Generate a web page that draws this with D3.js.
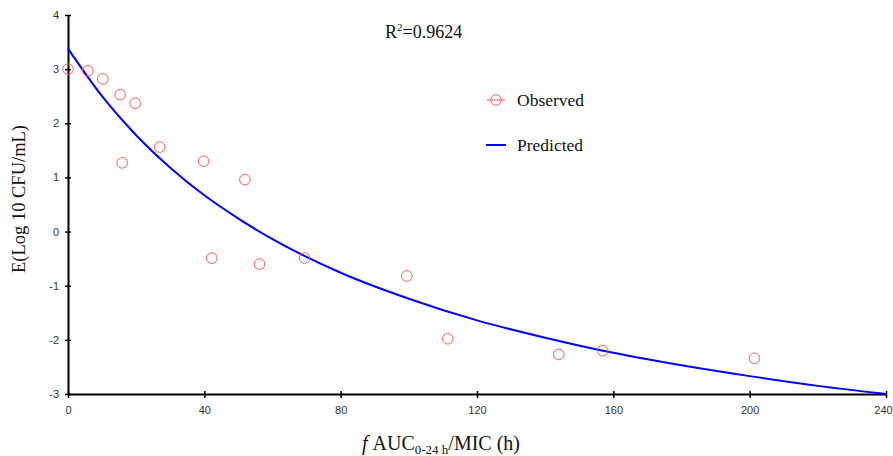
<!DOCTYPE html>
<html lang="en">
<head>
  <meta charset="UTF-8">
  <title>fAUC/MIC vs E</title>
  <script src="https://d3js.org/d3.v7.min.js"></script>
  <style>
    body { margin: 0; background: #fff; }
    .tick text { font-family: Arial, "Liberation Sans", sans-serif; font-size: 11px; fill: #333; }
    .serif { font-family: "Times New Roman", "Liberation Serif", serif; fill: #111; }
  </style>
</head>
<body>
  <div id="chart"></div>
  <script>
    // observed points
    var obsX = [0, 5.8, 10.2, 15.3, 19.7, 15.9, 26.9, 39.8, 51.9, 42.2, 56.2, 69.4, 99.4, 111.4, 144.0, 156.9, 201.4];
    var obsY = [3.0, 2.97, 2.82, 2.53, 2.37, 1.27, 1.56, 1.30, 0.96, -0.49, -0.60, -0.49, -0.82, -1.98, -2.27, -2.20, -2.34];

    // predicted curve
    var predX = [0, 10, 20, 30, 40, 50, 60, 80, 100, 120, 140, 160, 180, 200, 220, 240];
    var predY = [3.38, 2.50, 1.78, 1.18, 0.67, 0.24, -0.14, -0.76, -1.24, -1.64, -1.96, -2.24, -2.47, -2.67, -2.85, -3.00];

    var xTicks = [0, 40, 80, 120, 160, 200, 240];
    var yTicks = [-3, -2, -1, 0, 1, 2, 3, 4];

    var width = 893, height = 456;
    var margin = {top: 15, right: 7, bottom: 62, left: 68};

    var svg = d3.select("#chart").append("svg")
      .attr("width", width)
      .attr("height", height);

    var x = d3.scaleLinear().domain([0, 240]).range([margin.left, width - margin.right]);
    var y = d3.scaleLinear().domain([-3, 4]).range([height - margin.bottom, margin.top]);

    var fmt = function(d) { return String(d); };

    // axes
    var xAxis = svg.append("g")
      .attr("transform", "translate(0," + y(-3) + ")")
      .call(d3.axisBottom(x).tickValues(xTicks).tickFormat(fmt).tickSize(4).tickPadding(8).tickSizeOuter(0));
    xAxis.select(".domain").attr("stroke", "#000").attr("stroke-width", 2);
    xAxis.selectAll(".tick line").attr("y1", -3).attr("stroke", "#000").attr("stroke-width", 1.5);
    // last label sits on the right edge
    xAxis.selectAll(".tick text").filter(function(d) { return d === 240; }).attr("dx", -3);

    var yAxis = svg.append("g")
      .attr("transform", "translate(" + x(0) + ",0)")
      .call(d3.axisLeft(y).tickValues(yTicks).tickFormat(fmt).tickSize(4).tickPadding(5).tickSizeOuter(0));
    yAxis.select(".domain").attr("stroke", "#000").attr("stroke-width", 2);
    yAxis.selectAll(".tick line").attr("x1", 3).attr("x2", -3).attr("stroke", "#000").attr("stroke-width", 1.5);

    // predicted line
    var line = d3.line()
      .x(function(d, i) { return x(predX[i]); })
      .y(function(d) { return y(d); })
      .curve(d3.curveMonotoneX);

    svg.append("path")
      .datum(predY)
      .attr("d", line)
      .attr("fill", "none")
      .attr("stroke", "#0000ff")
      .attr("stroke-width", 2);

    // observed circles
    svg.selectAll("circle.obs")
      .data(obsY)
      .enter()
      .append("circle")
      .attr("class", "obs")
      .attr("cx", function(d, i) { return x(obsX[i]); })
      .attr("cy", function(d) { return y(d); })
      .attr("r", 5.3)
      .attr("fill", "none")
      .attr("stroke", "#ff5a5a")
      .attr("stroke-width", 1);

    // R squared
    var r2 = svg.append("text").attr("class", "serif")
      .attr("x", 385).attr("y", 38)
      .style("font-size", "18px");
    r2.append("tspan").text("R");
    r2.append("tspan").attr("dy", -7).style("font-size", "11px").text("2");
    r2.append("tspan").attr("dy", 7).text("=0.9624");

    // legend
    var lg = svg.append("g");
    lg.append("line").attr("x1", 487).attr("x2", 505).attr("y1", 100).attr("y2", 100)
      .attr("stroke", "#ff5a5a").attr("stroke-width", 1);
    lg.append("circle").attr("cx", 496).attr("cy", 100).attr("r", 5.3)
      .attr("fill", "#fff").attr("stroke", "#ff5a5a");
    lg.append("line").attr("x1", 491).attr("x2", 501).attr("y1", 100).attr("y2", 100)
      .attr("stroke", "#ff5a5a").attr("stroke-width", 1);
    lg.append("text").attr("class", "serif").attr("x", 517).attr("y", 106)
      .style("font-size", "17.5px").text("Observed");
    lg.append("line").attr("x1", 486).attr("x2", 506).attr("y1", 145).attr("y2", 145)
      .attr("stroke", "#0000ff").attr("stroke-width", 2);
    lg.append("text").attr("class", "serif").attr("x", 517).attr("y", 151)
      .style("font-size", "17.5px").text("Predicted");

    // axis titles
    svg.append("text").attr("class", "serif")
      .attr("transform", "translate(25,199) rotate(-90)")
      .attr("text-anchor", "middle")
      .style("font-size", "18.5px")
      .text("E(Log 10 CFU/mL)");

    var xt = svg.append("text").attr("class", "serif")
      .attr("x", 441).attr("y", 450)
      .attr("text-anchor", "middle")
      .style("font-size", "20px");
    xt.append("tspan").style("font-style", "italic").text("f ");
    xt.append("tspan").text("AUC");
    xt.append("tspan").attr("dy", 4).style("font-size", "13px").text("0-24 h");
    xt.append("tspan").attr("dy", -4).text("/MIC (h)");
  </script>
</body>
</html>
